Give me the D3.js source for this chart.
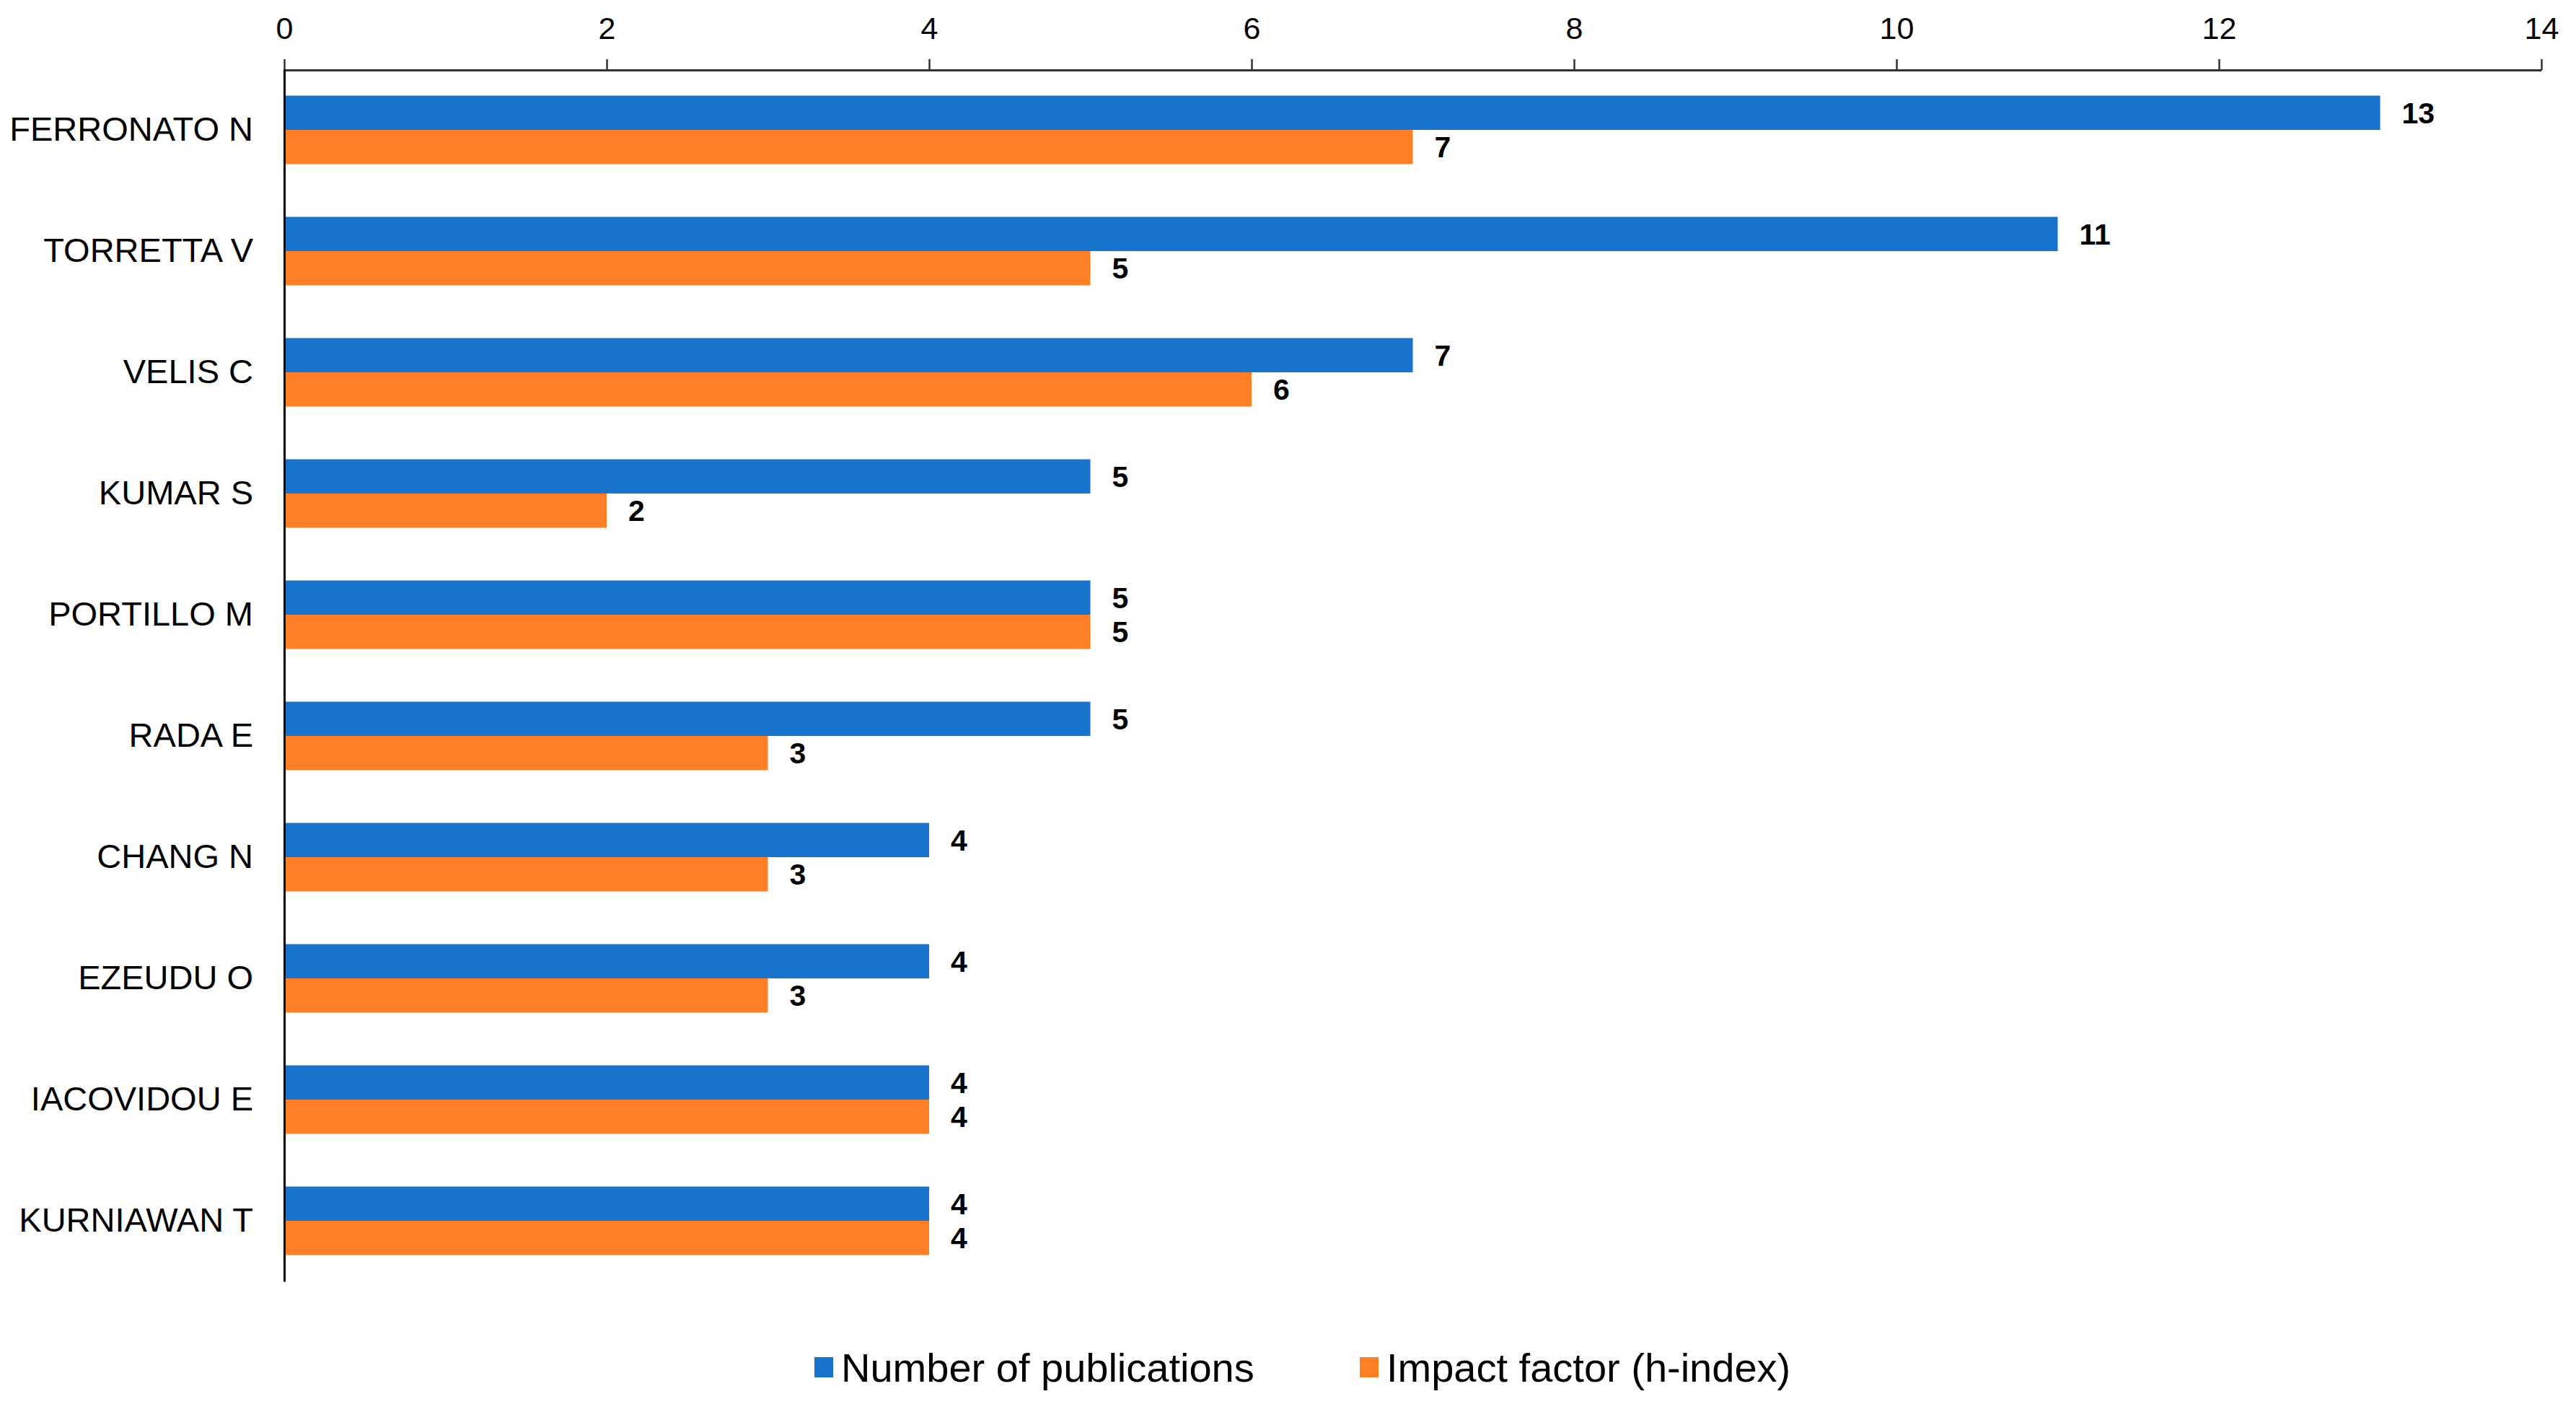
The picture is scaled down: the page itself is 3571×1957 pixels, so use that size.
<!DOCTYPE html>
<html>
<head>
<meta charset="utf-8">
<script src="https://cdn.jsdelivr.net/npm/d3@7"></script>
<style>
  html, body { margin: 0; padding: 0; background: #fff; }
  svg { display: block; font-family: "Liberation Sans", Arial, Helvetica, sans-serif; }
</style>
</head>
<body>
<svg id="chart" width="3571" height="1957"></svg>
<script>
// data
const authors = ["FERRONATO N", "TORRETTA V", "VELIS C", "KUMAR S", "PORTILLO M",
                 "RADA E", "CHANG N", "EZEUDU O", "IACOVIDOU E", "KURNIAWAN T"];
const publications = [13, 11, 7, 5, 5, 5, 4, 4, 4, 4];
const hIndex = [7, 5, 6, 2, 5, 3, 3, 3, 4, 4];
const seriesNames = ["Number of publications", "Impact factor (h-index)"];
const xTicks = [0, 2, 4, 6, 8, 10, 12, 14];

const colors = ["#1773cb", "#ff7f27"];
const plotLeft = 394, plotRight = 3523, plotTop = 96, plotBottom = 1776;

const svg = d3.select("#chart");

const x = d3.scaleLinear().domain([0, 14]).range([plotLeft, plotRight]);
const y = d3.scaleBand().domain(authors).range([plotTop, plotBottom])
    .paddingInner(0.435).paddingOuter(0.2175);
const ySub = d3.scaleBand().domain(seriesNames).range([0, y.bandwidth()]);

// build rows
const rows = authors.map((a, i) => ({
    author: a,
    vals: [
        { s: seriesNames[0], v: publications[i], c: colors[0] },
        { s: seriesNames[1], v: hIndex[i], c: colors[1] }
    ]
}));

// bars
const groups = svg.append("g").selectAll("g")
    .data(rows)
    .join("g")
    .attr("transform", d => `translate(0,${y(d.author)})`);

groups.selectAll("rect")
    .data(d => d.vals)
    .join("rect")
    .attr("x", x(0))
    .attr("y", d => ySub(d.s))
    .attr("width", d => x(d.v) - x(0))
    .attr("height", ySub.bandwidth())
    .attr("fill", d => d.c);

groups.selectAll("text")
    .data(d => d.vals)
    .join("text")
    .attr("x", d => x(d.v) + 30)
    .attr("y", d => ySub(d.s) + ySub.bandwidth() / 2)
    .attr("dy", "0.35em")
    .attr("font-size", 41)
    .attr("font-weight", "bold")
    .attr("fill", "#000")
    .text(d => d.v);

// top axis
const xAxis = svg.append("g")
    .attr("transform", `translate(0,97)`)
    .call(d3.axisTop(x).tickValues(xTicks).tickSize(15).tickSizeOuter(0).tickPadding(28));
xAxis.select(".domain").attr("stroke", "#333").attr("stroke-width", 3);
xAxis.selectAll(".tick line").attr("stroke", "#333").attr("stroke-width", 2.5);
xAxis.selectAll(".tick text")
    .attr("font-size", 43)
    .attr("font-family", "Liberation Sans, Arial, sans-serif")
    .attr("fill", "#000");

// left axis
const yAxis = svg.append("g")
    .attr("transform", `translate(${plotLeft},0)`)
    .call(d3.axisLeft(y).tickSize(0).tickPadding(43));
yAxis.select(".domain").attr("stroke", "#000").attr("stroke-width", 3);
yAxis.selectAll(".tick text")
    .attr("font-size", 47)
    .attr("font-family", "Liberation Sans, Arial, sans-serif")
    .attr("fill", "#000");

// legend
const legendItems = [
    { name: seriesNames[0], c: colors[0], x: 1129 },
    { name: seriesNames[1], c: colors[1], x: 1885 }
];
const legend = svg.append("g").selectAll("g")
    .data(legendItems)
    .join("g")
    .attr("transform", d => `translate(${d.x},1895)`);
legend.append("rect")
    .attr("x", 0).attr("y", -14)
    .attr("width", 26).attr("height", 28)
    .attr("fill", d => d.c);
legend.append("text")
    .attr("x", 37)
    .attr("dy", "0.35em")
    .attr("font-size", 56)
    .attr("fill", "#000")
    .text(d => d.name);
</script>
</body>
</html>
